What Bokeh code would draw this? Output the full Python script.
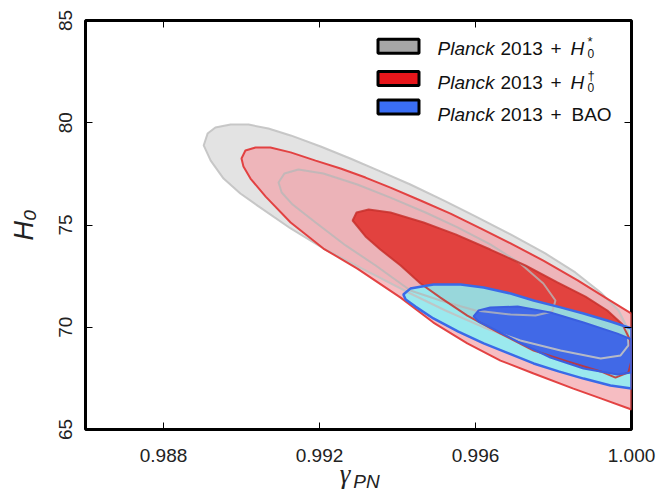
import numpy as np
from bokeh.plotting import figure
from bokeh.models import (FixedTicker, PrintfTickFormatter, LinearAxis, Label,
                          Range1d, CustomJSTickFormatter)
from bokeh.embed import file_html
from bokeh.resources import INLINE

# ---------------- data ----------------
x_ticks = [0.988, 0.992, 0.996, 1.000]
y_ticks = [65, 70, 75, 80, 85]
x_lim = [0.986, 1.000]
y_lim = [65.0, 85.0]

# Planck 2013 + H0*  (grey) : 95% and 68% contours
gray95_x = [0.98903, 0.98913, 0.98933, 0.98972, 0.99018, 0.99069, 0.99126, 0.99203, 0.99279, 0.99356,
            0.99433, 0.99518, 0.99600, 0.99690, 0.99779, 0.99856, 0.99921, 0.99967, 0.99990, 0.99992,
            0.99972, 0.99921, 0.99818, 0.99715, 0.99621, 0.99523, 0.99433, 0.99318, 0.99210, 0.99126,
            0.99041, 0.98997, 0.98954, 0.98921]
gray95_y = [78.89, 79.47, 79.77, 79.91, 79.91, 79.72, 79.38, 78.84, 78.25, 77.62,
            76.98, 76.20, 75.42, 74.54, 73.61, 72.68, 71.70, 70.82, 69.94, 69.11,
            68.62, 68.47, 68.86, 69.35, 69.99, 70.82, 71.65, 72.78, 73.85, 74.83,
            75.95, 76.54, 77.27, 78.15]
gray68_x = [0.99095, 0.99110, 0.99146, 0.99210, 0.99297, 0.99382, 0.99472, 0.99554, 0.99638, 0.99715,
            0.99774, 0.99805, 0.99797, 0.99754, 0.99690, 0.99600, 0.99510, 0.99433, 0.99344, 0.99267,
            0.99190, 0.99131, 0.99103]
gray68_y = [77.08, 77.52, 77.71, 77.52, 76.98, 76.34, 75.61, 74.88, 74.05, 73.12,
            72.14, 71.31, 70.77, 70.57, 70.62, 70.82, 71.31, 71.80, 73.02, 74.00,
            75.12, 76.00, 76.59]

# Planck 2013 + H0† (red)
red95_x = [0.99000, 0.99010, 0.99036, 0.99074, 0.99126, 0.99190, 0.99254, 0.99318, 0.99382, 0.99459,
           0.99536, 0.99613, 0.99690, 0.99774, 0.99862, 0.99933, 1.00000, 1.00000, 0.99921, 0.99851,
           0.99749, 0.99664, 0.99579, 0.99492, 0.99408, 0.99297, 0.99210, 0.99126, 0.99062, 0.99023,
           0.99005]
red95_y = [78.25, 78.64, 78.79, 78.79, 78.55, 78.15, 77.76, 77.32, 76.83, 76.20,
           75.56, 74.83, 74.10, 73.26, 72.29, 71.45, 70.67, 65.98, 66.52, 67.00,
           67.74, 68.37, 69.21, 70.23, 71.45, 72.87, 73.85, 75.12, 76.39, 77.27,
           77.86]
red68_x = [0.99285, 0.99295, 0.99326, 0.99382, 0.99467, 0.99549, 0.99638, 0.99728, 0.99810, 0.99882,
           0.99938, 0.99977, 0.99997, 1.00000, 0.99992, 0.99959, 0.99921, 0.99836, 0.99749, 0.99664,
           0.99579, 0.99510, 0.99459, 0.99408, 0.99356, 0.99318]
red68_y = [75.22, 75.61, 75.76, 75.61, 75.12, 74.54, 73.80, 73.02, 72.19, 71.50,
           70.82, 70.13, 69.35, 68.37, 67.79, 67.54, 67.84, 68.33, 68.86, 69.69,
           70.57, 71.45, 72.14, 73.02, 73.80, 74.44]

# Planck 2013 + BAO (blue)
blue95_x = [0.99415, 0.99433, 0.99492, 0.99562, 0.99621, 0.99690, 0.99749, 0.99818, 0.99877, 0.99946,
            1.00000, 1.00000, 0.99946, 0.99877, 0.99813, 0.99749, 0.99685, 0.99621, 0.99556, 0.99492,
            0.99446, 0.99421]
blue95_y = [71.60, 71.89, 72.09, 72.09, 71.94, 71.65, 71.31, 70.97, 70.67, 70.28,
            69.94, 67.00, 67.15, 67.49, 67.84, 68.23, 68.72, 69.21, 69.79, 70.43,
            71.01, 71.36]
blue68_x = [0.99595, 0.99608, 0.99638, 0.99708, 0.99792, 0.99877, 0.99964, 1.00000, 1.00000, 0.99964,
            0.99877, 0.99792, 0.99708, 0.99638, 0.99608]
blue68_y = [70.53, 70.82, 70.97, 71.01, 70.72, 70.23, 69.69, 69.40, 67.79, 67.69,
            67.98, 68.52, 69.30, 69.99, 70.28]

legend_prefix = "Planck"
legend_year = "2013"
legend_tails = ["H", "H", "BAO"]
legend_marks = ["*", "\u2020", ""]
x_title = ["\u03b3", "PN"]
y_title = "H\u2080"

# ---------------- styles ----------------
FONT = "Liberation Sans"
W, H = 658, 494
L, R, T, B = 85, 27, 20, 65
FW, FH = W - L - R, H - T - B


def px2x(px):
    return x_lim[0] + (px - L) / FW * (x_lim[1] - x_lim[0])


def py2y(py):
    return y_lim[1] - (py - T) / FH * (y_lim[1] - y_lim[0])


p = figure(width=W, height=H, x_range=Range1d(*x_lim), y_range=Range1d(*y_lim),
           output_backend="svg", toolbar_location=None,
           min_border_left=L, min_border_right=R, min_border_top=T, min_border_bottom=B)
p.background_fill_color = "white"
p.border_fill_color = "white"
p.outline_line_color = "black"
p.outline_line_width = 3
p.grid.visible = False

# fills
fills = [
    (gray95_x, gray95_y, "#e3e3e3", 1.0),
    (gray68_x, gray68_y, "#dadada", 1.0),
    (red95_x, red95_y, "#f3a3ab", 0.72),
    (red68_x, red68_y, "#e0302b", 0.86),
    (blue95_x, blue95_y, "#8cf0f4", 0.86),
    (blue68_x, blue68_y, "#3a60e8", 0.92),
]
for xs, ys, c, a in fills:
    p.patch(xs, ys, fill_color=c, fill_alpha=a, line_color=None)

lines = [
    (gray95_x, gray95_y, "#c2c2c2", 2.0, 0.9),
    (gray68_x, gray68_y, "#b8b8b8", 2.0, 0.8),
    (red95_x, red95_y, "#e23a3a", 2.0, 0.95),
    (red68_x, red68_y, "#c8302c", 2.0, 0.85),
    (blue95_x, blue95_y, "#3a6ae8", 2.5, 1.0),
    (blue68_x, blue68_y, "#3a5fe0", 2.0, 1.0),
]
for xs, ys, c, w, a in lines:
    p.patch(xs, ys, fill_color=None, line_color=c, line_width=w, line_alpha=a)


def plain(ax):
    ax.axis_line_color = None
    ax.major_tick_out = 0
    ax.minor_tick_in = 0
    ax.minor_tick_out = 0
    ax.major_tick_line_color = "black"


# main axes
for ax in (p.xaxis[0], p.yaxis[0]):
    plain(ax)
    ax.major_tick_in = 7
    ax.major_label_text_font = FONT
    ax.major_label_text_font_size = "19px"
    ax.major_label_text_color = "#222222"
p.xaxis[0].ticker = FixedTicker(ticks=x_ticks)
p.xaxis[0].formatter = PrintfTickFormatter(format="%.3f")
p.xaxis[0].major_label_standoff = 19
p.yaxis[0].ticker = FixedTicker(ticks=y_ticks)
p.yaxis[0].formatter = PrintfTickFormatter(format="%d")
p.yaxis[0].major_label_orientation = "vertical"
p.yaxis[0].major_label_standoff = 14
p.yaxis[0].axis_label = y_title
p.yaxis[0].axis_label_text_font = FONT
p.yaxis[0].axis_label_text_font_style = "italic"
p.yaxis[0].axis_label_text_font_size = "27px"
p.yaxis[0].axis_label_text_color = "#222222"
p.yaxis[0].axis_label_standoff = 17

# mirrored ticks on top and right
blank = CustomJSTickFormatter(code="return ''")
top = LinearAxis(ticker=FixedTicker(ticks=x_ticks), formatter=blank)
right = LinearAxis(ticker=FixedTicker(ticks=y_ticks), formatter=blank)
for ax in (top, right):
    plain(ax)
    ax.major_tick_in = 7
    ax.major_label_text_font_size = "1px"
    ax.major_label_standoff = 0
p.add_layout(top, "above")
p.add_layout(right, "right")

# x title: gamma with subscript PN, as two label-only axes below
g_axis = LinearAxis(ticker=FixedTicker(ticks=[px2x(344.5)]),
                    formatter=CustomJSTickFormatter(code="return '%s'" % x_title[0].encode("unicode_escape").decode()))
pn_axis = LinearAxis(ticker=FixedTicker(ticks=[px2x(366)]),
                     formatter=CustomJSTickFormatter(code="return '%s'" % x_title[1]))
for ax in (g_axis, pn_axis):
    plain(ax)
    ax.major_tick_in = 0
    ax.major_tick_line_color = None
    ax.major_label_text_font_style = "italic"
    ax.major_label_text_color = "#222222"
g_axis.major_label_text_font = "Liberation Serif"
g_axis.major_label_text_font_size = "27px"
g_axis.major_label_standoff = -6
pn_axis.major_label_text_font = FONT
pn_axis.major_label_text_font_size = "19px"
pn_axis.major_label_standoff = -21
p.add_layout(g_axis, "below")
p.add_layout(pn_axis, "below")

# legend
sw_colors = ["#a6a6a6", "#e8161b", "#3a6ef5"]
sw_centers = [45.8, 78.0, 106.5]
baselines = [48.3, 81.7, 114.0]
p.rect(x=[px2x(398)] * 3, y=[py2y(v) for v in sw_centers], width=41, height=14,
       width_units="screen", height_units="screen", fill_color=sw_colors,
       line_color="black", line_width=3)
for i in range(3):
    yb = py2y(baselines[i])
    common = dict(y=yb, text_font=FONT, text_baseline="alphabetic", text_color="#111111")
    p.add_layout(Label(x=px2x(437), text=legend_prefix, text_font_style="italic",
                       text_font_size="19px", **common))
    p.add_layout(Label(x=px2x(500), text=legend_year, text_font_size="19px", **common))
    p.add_layout(Label(x=px2x(550), text="+", text_font_size="19px", **common))
    if legend_tails[i] == "H":
        p.add_layout(Label(x=px2x(570), text="H", text_font_style="italic",
                           text_font_size="19px", **common))
        p.add_layout(Label(x=px2x(587), y=yb, y_offset=-5, text="0", text_font=FONT,
                           text_font_size="12px", text_baseline="alphabetic", text_color="#111111"))
        p.add_layout(Label(x=px2x(587), y=yb, y_offset=7, text=legend_marks[i], text_font=FONT,
                           text_font_size="13px", text_baseline="alphabetic", text_color="#111111"))
    else:
        p.add_layout(Label(x=px2x(571), text=legend_tails[i], text_font_size="19px", **common))

open("out.html", "w", encoding="utf-8").write(file_html(p, INLINE))
